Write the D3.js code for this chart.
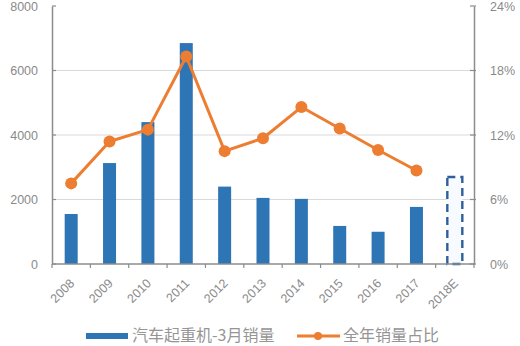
<!DOCTYPE html>
<html>
<head>
<meta charset="utf-8">
<script src="https://cdn.jsdelivr.net/npm/d3@7"></script>
<style>
  html, body { margin: 0; padding: 0; background: #fff; }
  svg { display: block; }
  text { font-family: "Liberation Sans", Arial, sans-serif; }
  .cjk { font-family: "Noto Sans CJK SC", sans-serif; }
</style>
</head>
<body>
<svg id="chart" width="520" height="346"></svg>
<script>
// Truck crane March sales (units) and March share of full-year sales
const years = ["2008", "2009", "2010", "2011", "2012", "2013", "2014", "2015", "2016", "2017", "2018E"];
const marchSales = [1550, 3130, 4400, 6850, 2400, 2050, 2020, 1180, 1000, 1770, 2700];
const yearShare = [7.5, 11.4, 12.5, 19.3, 10.5, 11.7, 14.6, 12.6, 10.6, 8.7, null];
const leftTicks = [0, 2000, 4000, 6000, 8000];
const rightTicks = [0, 6, 12, 18, 24];
const legendLabels = ["汽车起重机-3月销量", "全年销量占比"];

const blue = "#2e75b6";
const orange = "#ed7d31";
const axisGray = "#8c8c8c";
const gridGray = "#d9d9d9";
const textGray = "#8a8a8a";

const svg = d3.select("#chart");
const plotLeft = 52, plotRight = 474, plotTop = 6, plotBottom = 264;

const x = d3.scaleBand().domain(years).range([plotLeft, plotRight]).paddingInner(0).paddingOuter(0);
const yL = d3.scaleLinear().domain([0, 8000]).range([plotBottom, plotTop]);
const yR = d3.scaleLinear().domain([0, 24]).range([plotBottom, plotTop]);

// horizontal gridlines
svg.append("g")
  .selectAll("line")
  .data(leftTicks.filter(d => d > 0 && d < 8000))
  .join("line")
  .attr("x1", plotLeft).attr("x2", plotRight)
  .attr("y1", d => yL(d)).attr("y2", d => yL(d))
  .attr("stroke", gridGray).attr("stroke-width", 1.2);

// solid bars for actual years
const barW = 13;
const actual = years.map((y, i) => ({ y, v: marchSales[i], est: y.endsWith("E") }));
svg.append("g")
  .selectAll("rect")
  .data(actual.filter(d => !d.est))
  .join("rect")
  .attr("x", d => x(d.y) + x.bandwidth() / 2 - barW / 2)
  .attr("y", d => yL(d.v))
  .attr("width", barW)
  .attr("height", d => yL(0) - yL(d.v))
  .attr("fill", blue);

// dashed outline for the estimate
const estW = 15;
svg.append("g")
  .selectAll("rect")
  .data(actual.filter(d => d.est))
  .join("rect")
  .attr("x", d => x(d.y) + x.bandwidth() / 2 - estW / 2)
  .attr("y", d => yL(d.v))
  .attr("width", estW)
  .attr("height", d => yL(0) - yL(d.v))
  .attr("fill", "#f7fbff")
  .attr("stroke", "#2f5f9a")
  .attr("stroke-width", 2.4)
  .attr("stroke-dasharray", "8,5");

// left axis
const axL = svg.append("g").attr("transform", `translate(${plotLeft},0)`)
  .call(d3.axisLeft(yL).tickValues(leftTicks).tickSize(0).tickPadding(14).tickFormat(d3.format("d")));
axL.select(".domain").attr("stroke", axisGray).attr("stroke-width", 1.5);
axL.selectAll("text").attr("fill", textGray).style("font-size", "12.5px");
svg.append("g").selectAll("line").data(leftTicks).join("line")
  .attr("x1", plotLeft).attr("x2", plotLeft + 4)
  .attr("y1", d => yL(d)).attr("y2", d => yL(d))
  .attr("stroke", axisGray).attr("stroke-width", 1.2);

// right axis
const axR = svg.append("g").attr("transform", `translate(${plotRight},0)`)
  .call(d3.axisRight(yR).tickValues(rightTicks).tickSize(0).tickPadding(16).tickFormat(d => d + "%"));
axR.select(".domain").attr("stroke", axisGray).attr("stroke-width", 1.5);
axR.selectAll("text").attr("fill", textGray).style("font-size", "12.5px");
svg.append("g").selectAll("line").data(rightTicks).join("line")
  .attr("x1", plotRight - 4).attr("x2", plotRight + 2)
  .attr("y1", d => yR(d)).attr("y2", d => yR(d))
  .attr("stroke", axisGray).attr("stroke-width", 1.2);

// bottom axis with ticks at category boundaries
svg.append("line")
  .attr("x1", plotLeft).attr("x2", plotRight).attr("y1", plotBottom).attr("y2", plotBottom)
  .attr("stroke", axisGray).attr("stroke-width", 1.5);
svg.append("g").selectAll("line")
  .data(years.concat(["__end"]))
  .join("line")
  .attr("x1", (d, i) => plotLeft + i * x.step()).attr("x2", (d, i) => plotLeft + i * x.step())
  .attr("y1", plotBottom).attr("y2", plotBottom + 4)
  .attr("stroke", axisGray).attr("stroke-width", 1.2);

svg.append("g").selectAll("text")
  .data(years)
  .join("text")
  .attr("transform", d => `translate(${x(d) + x.bandwidth() / 2 + 4},${plotBottom + 20}) rotate(-45)`)
  .attr("text-anchor", "end")
  .attr("fill", textGray)
  .style("font-size", "12.5px")
  .text(d => d);

// share line with markers
const pts = years.map((y, i) => ({ y, v: yearShare[i] })).filter(d => d.v != null);
const line = d3.line().x(d => x(d.y) + x.bandwidth() / 2).y(d => yR(d.v));
svg.append("path")
  .datum(pts)
  .attr("d", line)
  .attr("fill", "none")
  .attr("stroke", orange)
  .attr("stroke-width", 3)
  .attr("stroke-linejoin", "round");
svg.append("g").selectAll("circle")
  .data(pts)
  .join("circle")
  .attr("cx", d => x(d.y) + x.bandwidth() / 2)
  .attr("cy", d => yR(d.v))
  .attr("r", 6)
  .attr("fill", orange);

// legend
const lg = svg.append("g");
lg.append("rect").attr("x", 86).attr("y", 333).attr("width", 42).attr("height", 6).attr("fill", blue);
lg.append("text").attr("class", "cjk").attr("x", 132).attr("y", 341)
  .attr("fill", "#959595").style("font-size", "16px").text(legendLabels[0]);
lg.append("line").attr("x1", 297).attr("x2", 340).attr("y1", 336).attr("y2", 336)
  .attr("stroke", orange).attr("stroke-width", 3);
lg.append("circle").attr("cx", 318).attr("cy", 336).attr("r", 4).attr("fill", orange);
lg.append("text").attr("class", "cjk").attr("x", 343).attr("y", 341)
  .attr("fill", "#959595").style("font-size", "16px").text(legendLabels[1]);
</script>
</body>
</html>
